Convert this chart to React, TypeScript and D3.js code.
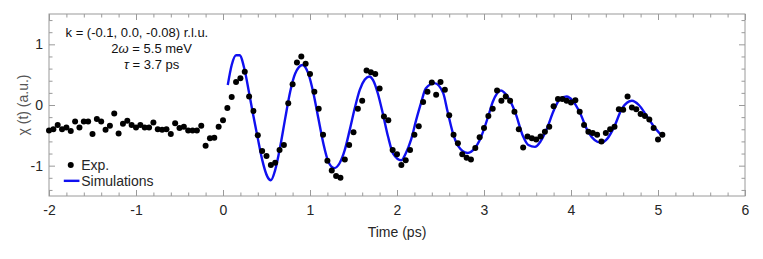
import React, { useEffect, useRef } from 'react';
import * as d3 from 'd3';

// measured points, sampled every 0.05 ps starting at -2 ps
const expStart = -2;
const expStep = 0.05;
const expValues = [
    -0.42, -0.40, -0.33, -0.40, -0.37, -0.43, -0.27, -0.37, -0.27, -0.27,
    -0.48, -0.23, -0.27, -0.41, -0.34, -0.14, -0.47, -0.31, -0.26, -0.33,
    -0.37, -0.33, -0.37, -0.37, -0.29, -0.40, -0.41, -0.40, -0.48, -0.30,
    -0.38, -0.36, -0.42, -0.42, -0.42, -0.34, -0.67, -0.55, -0.54, -0.36,
    -0.25, -0.05, 0.13, 0.38, 0.44, 0.55, 0.14, -0.10, -0.50, -0.76,
    -0.84, -0.99, -0.95, -0.74, -0.66, 0.03, 0.34, 0.70, 0.80, 0.68,
    0.51, 0.22, -0.06, -0.49, -0.92, -1.08, -1.17, -1.20, -0.90, -0.66,
    -0.45, -0.06, 0.07, 0.57, 0.54, 0.51, 0.27, -0.19, -0.25, -0.74,
    -0.81, -0.99, -0.91, -0.74, -0.49, -0.35, 0.05, 0.22, 0.37, 0.17,
    0.38, 0.25, -0.17, -0.49, -0.63, -0.81, -0.87, -0.90, -0.71, -0.53,
    -0.38, -0.18, -0.06, 0.24, 0.07, 0.14, 0.07, -0.11, -0.40, -0.70,
    -0.52, -0.55, -0.57, -0.52, -0.44, -0.36, -0.02, 0.10, 0.10, 0.07,
    0.04, 0.08, -0.11, -0.33, -0.44, -0.46, -0.49, -0.60, -0.46, -0.40,
    -0.36, -0.07, -0.08, 0.14, -0.04, -0.07, -0.15, -0.18, -0.24, -0.38,
    -0.57, -0.49,
];

// simulated curve
const simTime = [
    0.055, 0.10, 0.15, 0.19, 0.25, 0.30, 0.34, 0.40, 0.45, 0.51, 0.55, 0.60, 0.657, 0.715, 0.772, 0.83,
    0.915, 0.98, 1.04, 1.096, 1.153, 1.21, 1.28, 1.34, 1.40, 1.457, 1.515, 1.572, 1.63, 1.68, 1.725, 1.78,
    1.84, 1.897, 1.955, 2.05, 2.10, 2.16, 2.22, 2.28, 2.33, 2.43, 2.53, 2.58, 2.64, 2.70, 2.81, 2.90,
    2.95, 3.05, 3.10, 3.195, 3.27, 3.356, 3.45, 3.51, 3.586, 3.65, 3.72, 3.805, 3.874, 3.95, 4.02, 4.10,
    4.20, 4.345, 4.42, 4.49, 4.59, 4.70, 4.78, 4.87, 4.965, 5.055,
];
const simValue = [
    0.33, 0.66, 0.82, 0.82, 0.57, 0.20, -0.11, -0.55, -0.90, -1.18, -1.24, -1.07, -0.69, -0.22, 0.22, 0.52,
    0.66, 0.52, 0.19, -0.22, -0.63, -0.93, -1.04, -0.96, -0.74, -0.41, -0.05, 0.25, 0.42, 0.47, 0.41, 0.19,
    -0.16, -0.52, -0.80, -0.91, -0.80, -0.58, -0.25, 0.05, 0.27, 0.36, 0.20, -0.10, -0.45, -0.67, -0.79, -0.70,
    -0.58, -0.18, 0.05, 0.24, 0.14, -0.11, -0.52, -0.66, -0.69, -0.60, -0.40, -0.08, 0.10, 0.14, 0.07, -0.12,
    -0.45, -0.62, -0.55, -0.38, -0.05, 0.07, 0.00, -0.18, -0.38, -0.52,
];

const xMajor = [-2, -1, 0, 1, 2, 3, 4, 5, 6];
const xMinor = [-1.8, -1.6, -1.4, -1.2, -0.8, -0.6, -0.4, -0.2, 0.2, 0.4, 0.6, 0.8, 1.2, 1.4, 1.6, 1.8,
    2.2, 2.4, 2.6, 2.8, 3.2, 3.4, 3.6, 3.8, 4.2, 4.4, 4.6, 4.8, 5.2, 5.4, 5.6, 5.8];
const yMajor = [-1, 0, 1];
const yMinor = [-1.4, -1.2, -0.8, -0.6, -0.4, -0.2, 0.2, 0.4, 0.6, 0.8, 1.2, 1.4];

const W = 763;
const H = 259;
const FONT = "'Liberation Sans', Arial, Helvetica, sans-serif";

export default function App() {
    const svgRef = useRef<SVGSVGElement>(null);

    useEffect(() => {
        const svg = d3.select(svgRef.current);
        svg.selectAll('*').remove();

        const margin = { top: 14, right: 18, bottom: 63, left: 49 };
        const x = d3.scaleLinear().domain([-2, 6]).range([margin.left, W - margin.right]);
        const y = d3.scaleLinear().domain([-1.5, 1.5]).range([H - margin.bottom, margin.top]);
        const x0 = x.range()[0], x1 = x.range()[1];
        const yTop = y.range()[1], yBot = y.range()[0];

        const tickColor = '#9a9a9a';
        const labelColor = '#262626';

        // frame
        svg.append('rect')
            .attr('x', x0).attr('y', yTop)
            .attr('width', x1 - x0).attr('height', yBot - yTop)
            .attr('fill', 'none').attr('stroke', tickColor).attr('stroke-width', 1);

        const styleAxis = (g) => {
            g.select('.domain').remove();
            g.selectAll('.tick line').attr('stroke', tickColor);
            g.selectAll('text').attr('fill', labelColor).attr('font-family', FONT).attr('font-size', 14);
        };
        const fmt = (d) => String(d);

        // bottom / top
        svg.append('g').attr('transform', `translate(0,${yBot})`)
            .call(d3.axisBottom(x).tickValues(xMajor).tickSize(-6).tickPadding(9).tickFormat(fmt))
            .call(styleAxis);
        svg.append('g').attr('transform', `translate(0,${yBot})`)
            .call(d3.axisBottom(x).tickValues(xMinor).tickSize(-3.5).tickFormat(() => ''))
            .call(styleAxis);
        svg.append('g').attr('transform', `translate(0,${yTop})`)
            .call(d3.axisTop(x).tickValues(xMajor).tickSize(-6).tickFormat(() => ''))
            .call(styleAxis);
        svg.append('g').attr('transform', `translate(0,${yTop})`)
            .call(d3.axisTop(x).tickValues(xMinor).tickSize(-3.5).tickFormat(() => ''))
            .call(styleAxis);

        // left / right
        svg.append('g').attr('transform', `translate(${x0},0)`)
            .call(d3.axisLeft(y).tickValues(yMajor).tickSize(-6).tickPadding(6).tickFormat(fmt))
            .call(styleAxis);
        svg.append('g').attr('transform', `translate(${x0},0)`)
            .call(d3.axisLeft(y).tickValues(yMinor).tickSize(-3.5).tickFormat(() => ''))
            .call(styleAxis);
        svg.append('g').attr('transform', `translate(${x1},0)`)
            .call(d3.axisRight(y).tickValues(yMajor).tickSize(-6).tickFormat(() => ''))
            .call(styleAxis);
        svg.append('g').attr('transform', `translate(${x1},0)`)
            .call(d3.axisRight(y).tickValues(yMinor).tickSize(-3.5).tickFormat(() => ''))
            .call(styleAxis);

        // axis titles
        svg.append('text')
            .attr('x', (x0 + x1) / 2).attr('y', yBot + 41)
            .attr('text-anchor', 'middle')
            .attr('font-family', FONT).attr('font-size', 14).attr('fill', labelColor)
            .text('Time (ps)');
        svg.append('text')
            .attr('transform', `translate(28,${(yTop + yBot) / 2}) rotate(-90)`)
            .attr('text-anchor', 'middle')
            .attr('font-family', FONT).attr('font-size', 14).attr('fill', '#555')
            .text('χ (t) (a.u.)');

        // simulation line
        const simData = simTime.map((t, i) => ({ t, v: simValue[i] }));
        const line = d3.line()
            .x(d => x(d.t))
            .y(d => y(d.v))
            .curve(d3.curveMonotoneX);
        svg.append('path')
            .datum(simData)
            .attr('d', line)
            .attr('fill', 'none')
            .attr('stroke', '#1010f0')
            .attr('stroke-width', 2.4)
            .attr('stroke-linejoin', 'round');

        // experimental points
        const expData = expValues.map((v, i) => ({ t: expStart + i * expStep, v }));
        svg.append('g')
            .selectAll('circle')
            .data(expData)
            .join('circle')
            .attr('cx', d => x(d.t))
            .attr('cy', d => y(d.v))
            .attr('r', 3)
            .attr('fill', '#000');

        // annotation
        const ann = svg.append('g').attr('font-family', FONT).attr('font-size', 13).attr('fill', '#111');
        ann.append('text').attr('x', x(-1.81)).attr('y', y(1.12)).text('k = (-0.1, 0.0, -0.08) r.l.u.');
        const l2 = ann.append('text').attr('x', x(-0.82)).attr('y', y(0.86)).attr('text-anchor', 'middle');
        l2.append('tspan').text('2');
        l2.append('tspan').attr('font-style', 'italic').text('ω');
        l2.append('tspan').text(' = 5.5 meV');
        const l3 = ann.append('text').attr('x', x(-0.82)).attr('y', y(0.60)).attr('text-anchor', 'middle');
        l3.append('tspan').attr('font-style', 'italic').text('τ');
        l3.append('tspan').text(' = 3.7 ps');

        // legend
        const leg = svg.append('g').attr('font-family', FONT).attr('font-size', 14).attr('fill', labelColor);
        leg.append('circle').attr('cx', x(-1.75)).attr('cy', y(-0.99)).attr('r', 3).attr('fill', '#000');
        leg.append('text').attr('x', x(-1.63)).attr('y', y(-0.99)).attr('dy', '0.35em').text('Exp.');
        leg.append('line')
            .attr('x1', x(-1.83)).attr('x2', x(-1.65))
            .attr('y1', y(-1.25)).attr('y2', y(-1.25))
            .attr('stroke', '#1010f0').attr('stroke-width', 2.4);
        leg.append('text').attr('x', x(-1.63)).attr('y', y(-1.25)).attr('dy', '0.35em').text('Simulations');
    }, []);

    return (
        <div style={{ position: 'absolute', left: 0, top: 0 }}>
            <svg ref={svgRef} width={W} height={H} style={{ display: 'block', background: '#fff' }}></svg>
        </div>
    );
}
